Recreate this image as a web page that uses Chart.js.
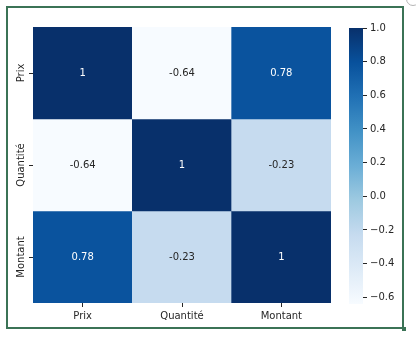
<!DOCTYPE html>
<html>
<head>
<meta charset="utf-8">
<script src="https://cdn.jsdelivr.net/npm/chart.js@4.4.1/dist/chart.umd.min.js"></script>
<style>
  html, body { margin: 0; padding: 0; background: #fff; }
  #wrap { position: relative; width: 416px; height: 341px; overflow: hidden; }
  #frame { position: absolute; left: 6px; top: 6px; width: 394px; height: 319px; border: 2px solid #3b7356; }
  #handle { position: absolute; left: 402px; top: 327px; width: 4px; height: 4px; background: #3b7356; }
  #knob { position: absolute; left: 406px; top: -8px; width: 12px; height: 12px; border: 1px solid #b5b5b5; border-radius: 50%; }
  #heat { position: absolute; left: 0; top: 0; }
  #cbar { position: absolute; left: 340px; top: 0; }
</style>
</head>
<body>
<div id="wrap">
  <div id="frame"></div>
  <div id="handle"></div>
  <div id="knob"></div>
  <canvas id="heat" width="345" height="341"></canvas>
  <canvas id="cbar" width="76" height="341"></canvas>
</div>
<script>
const labels = ["Prix", "Quantité", "Montant"];
const prixRow = [1, -0.64, 0.78];
const quantiteRow = [-0.64, 1, -0.23];
const montantRow = [0.78, -0.23, 1];
const rows = [prixRow, quantiteRow, montantRow];

const vmin = -0.64;
const vmax = 1;
const cbarTicks = [-0.6, -0.4, -0.2, 0.0, 0.2, 0.4, 0.6, 0.8, 1.0];

// matplotlib "Blues"
const blues = ["#f7fbff", "#deebf7", "#c6dbef", "#9ecae1", "#6baed6", "#4292c6", "#2171b5", "#08519c", "#08306b"];

const FONT = "'DejaVu Sans', sans-serif";
const INK = "#262626";

function hexToRgb(h) {
  return [parseInt(h.slice(1, 3), 16), parseInt(h.slice(3, 5), 16), parseInt(h.slice(5, 7), 16)];
}

function bluesAt(t) {
  t = Math.max(0, Math.min(1, t));
  const pos = t * (blues.length - 1);
  const i = Math.min(Math.floor(pos), blues.length - 2);
  const f = pos - i;
  const a = hexToRgb(blues[i]);
  const b = hexToRgb(blues[i + 1]);
  const c = a.map((v, k) => Math.round(v + (b[k] - v) * f));
  return `rgb(${c[0]}, ${c[1]}, ${c[2]})`;
}

function norm(v) {
  return (v - vmin) / (vmax - vmin);
}

// value printed in each cell
const cellText = {
  id: "cellText",
  afterDatasetsDraw(chart) {
    const ctx = chart.ctx;
    ctx.save();
    ctx.font = "10px " + FONT;
    ctx.textAlign = "center";
    ctx.textBaseline = "middle";
    chart.data.datasets.forEach((ds, r) => {
      const meta = chart.getDatasetMeta(r);
      meta.data.forEach((bar, c) => {
        const v = rows[r][c];
        ctx.fillStyle = norm(v) > 0.6 ? "#ffffff" : INK;
        ctx.fillText(String(v), bar.x, (bar.y + bar.base) / 2);
      });
    });
    ctx.restore();
  },
};

// row names, rotated, next to the y ticks
const rowNames = {
  id: "rowNames",
  afterDraw(chart) {
    const ctx = chart.ctx;
    const y = chart.scales.y;
    ctx.save();
    ctx.font = "10px " + FONT;
    ctx.fillStyle = INK;
    ctx.textAlign = "center";
    ctx.textBaseline = "middle";
    y.ticks.forEach((t, i) => {
      ctx.save();
      ctx.translate(21, y.getPixelForValue(t.value));
      ctx.rotate(-Math.PI / 2);
      ctx.fillText(labels[i], 0, 0);
      ctx.restore();
    });
    ctx.restore();
  },
};

new Chart(document.getElementById("heat"), {
  type: "bar",
  data: {
    labels: labels,
    datasets: rows.map((row, r) => ({
      label: labels[r],
      data: row.map(() => [r, r + 1]),
      backgroundColor: row.map((v) => bluesAt(norm(v))),
      borderWidth: 0,
      barPercentage: 1,
      categoryPercentage: 1,
    })),
  },
  options: {
    responsive: false,
    animation: false,
    events: [],
    layout: { padding: { top: 27, right: 14, left: 0, bottom: 0 } },
    plugins: { legend: { display: false }, tooltip: { enabled: false } },
    scales: {
      x: {
        stacked: true,
        offset: true,
        grid: { offset: false, drawOnChartArea: false, tickLength: 4, color: INK },
        border: { display: false },
        ticks: { color: INK, font: { family: FONT, size: 10 }, padding: 3, maxRotation: 0 },
        afterFit(scale) { scale.height = 38; },
      },
      y: {
        type: "linear",
        reverse: true,
        min: 0,
        max: 3,
        grid: { drawOnChartArea: false, tickLength: 4, color: INK },
        border: { display: false },
        afterBuildTicks(scale) {
          scale.ticks = labels.map((_, i) => ({ value: i + 0.5 }));
        },
        ticks: { display: false },
        afterFit(scale) { scale.width = 33; },
      },
    },
  },
  plugins: [cellText, rowNames],
});

// colour bar
new Chart(document.getElementById("cbar"), {
  type: "bar",
  data: {
    labels: [""],
    datasets: [{
      data: [[vmin, vmax]],
      borderWidth: 0,
      barPercentage: 1,
      categoryPercentage: 1,
      backgroundColor(ctx) {
        const chart = ctx.chart;
        const area = chart.chartArea;
        if (!area) return blues[4];
        const g = chart.ctx.createLinearGradient(0, area.bottom, 0, area.top);
        blues.forEach((c, i) => g.addColorStop(i / (blues.length - 1), c));
        return g;
      },
    }],
  },
  options: {
    responsive: false,
    animation: false,
    events: [],
    layout: { padding: { top: 28, left: 9, right: 0, bottom: 37 } },
    plugins: { legend: { display: false }, tooltip: { enabled: false } },
    scales: {
      x: { display: false },
      y: {
        position: "right",
        min: vmin,
        max: vmax,
        grid: { drawOnChartArea: false, tickLength: 4, color: INK },
        border: { display: false },
        afterBuildTicks(scale) {
          scale.ticks = cbarTicks.map((v) => ({ value: v }));
        },
        ticks: {
          color: INK,
          font: { family: FONT, size: 10 },
          padding: 3,
          callback: (v) => v.toFixed(1).replace("-", "\u2212"),
        },
        afterFit(scale) { scale.width = 53; },
      },
    },
  },
});
</script>
</body>
</html>
